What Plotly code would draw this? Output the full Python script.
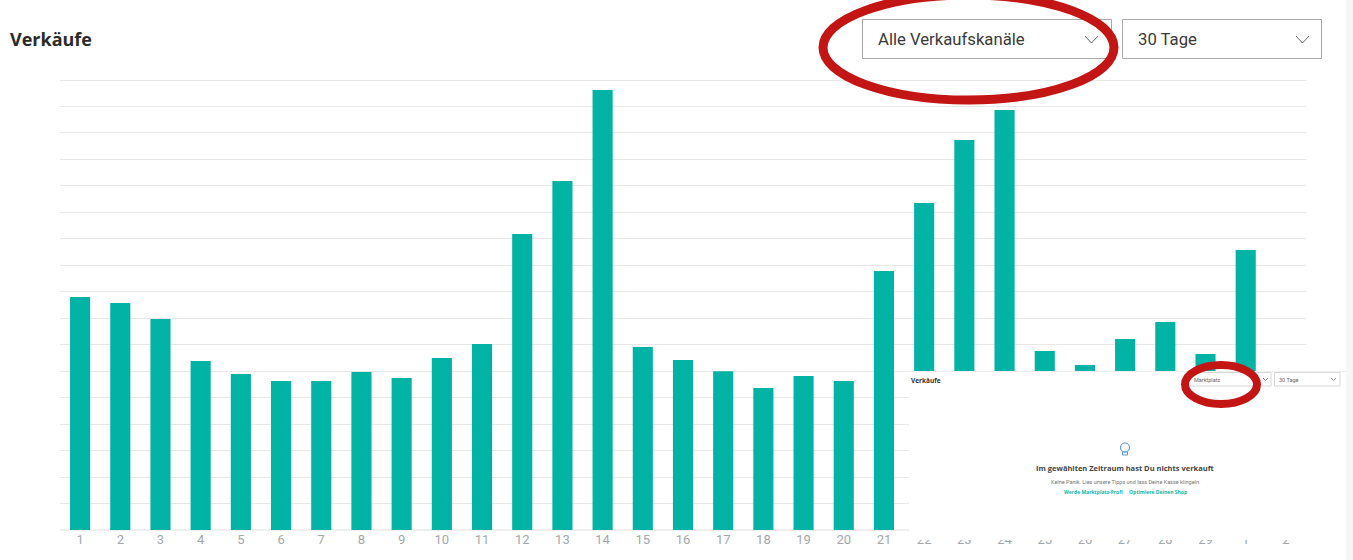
import plotly.graph_objects as go

W, H = 1353, 560

day_labels = ["1","2","3","4","5","6","7","8","9","10","11","12","13","14","15","16","17","18","19","20","21","22","23","24","25","26","27","28","29","1","2"]
sales = [8.80,8.58,7.97,6.38,5.89,5.63,5.63,5.97,5.74,6.50,7.03,11.18,13.18,16.62,6.91,6.42,6.00,5.36,5.82,5.63,9.78,12.35,14.73,15.87,6.76,6.23,7.22,7.86,6.65,10.58,0]
positions = list(range(len(day_labels)))
y_ticks = list(range(18))

TEAL = "#00B3A5"
RED = "#C41515"
BORDER = "#A8A8A8"
TEXT = "#3A3A3A"

def fx(x): return x / W
def fy(y): return 1 - y / H

shapes, annos = [], []

def rect(x0, y0, x1, y1, fill=None, line=None, lw=1):
    shapes.append(dict(type="rect", xref="paper", yref="paper", x0=fx(x0), x1=fx(x1), y0=fy(y1), y1=fy(y0),
                       fillcolor=fill or "rgba(0,0,0,0)", line=dict(color=line or "rgba(0,0,0,0)", width=lw if line else 0), layer="above"))

def ellipse(x0, y0, x1, y1, lw):
    shapes.append(dict(type="circle", xref="paper", yref="paper", x0=fx(x0), x1=fx(x1), y0=fy(y1), y1=fy(y0),
                       line=dict(color=RED, width=lw), layer="above"))

def poly(pts, color, lw=1):
    d = "M" + " L".join(f"{fx(a):.5f},{fy(b):.5f}" for a, b in pts)
    shapes.append(dict(type="path", xref="paper", yref="paper", path=d, line=dict(color=color, width=lw), layer="above"))

def text(x, y, s, size, color=TEXT, font="Roboto", anchor="left", bold=False):
    annos.append(dict(xref="paper", yref="paper", x=fx(x), y=fy(y), text=f"<b>{s}</b>" if bold else s, showarrow=False,
                      xanchor=anchor, yanchor="middle", font=dict(size=size, color=color, family=font)))

# pasted inset panel and page strip
rect(1346, 0, 1353, 560, fill="#F6F6F6")
rect(909, 371, 1346, 540, fill="#FFFFFF")
poly([(909, 371.5), (1346, 371.5)], "#EFEFEF")

# main header
text(8, 39.5, "Verkäufe", 18, "#2B2B2B", "Open Sans", bold=True)
rect(862.5, 19.5, 1111.5, 58.5, line=BORDER)
rect(1122.5, 19.5, 1321.5, 58.5, line=BORDER)
text(876, 40, "Alle Verkaufskanäle", 16.7, TEXT)
text(1136, 40, "30 Tage", 16.7, TEXT)
poly([(1085, 36), (1091.5, 43), (1098, 36)], "#666666")
poly([(1296, 36), (1302.5, 43), (1309, 36)], "#666666")
ellipse(823, -5, 1114, 100, 9)

# inset content
text(909, 380, "Verkäufe", 6.5, "#333333", "Open Sans", bold=True)
rect(1188.5, 372.5, 1271, 386, line="#D8D8D8")
rect(1274.5, 372.5, 1340, 386, line="#D8D8D8")
text(1192, 379.5, "Marktplatz", 5.5, "#666666")
text(1277, 379.5, "30 Tage", 5.5, "#666666")
poly([(1263, 378), (1265.5, 380.5), (1268, 378)], "#888888")
poly([(1331, 378), (1333.5, 380.5), (1336, 378)], "#888888")
ellipse(1185, 365, 1257, 404, 8)

shapes.append(dict(type="circle", xref="paper", yref="paper", x0=fx(1120.5), x1=fx(1129.5), y0=fy(452), y1=fy(443),
                   line=dict(color="#5B9BD5", width=1.2), layer="above"))
rect(1122.5, 452, 1127.5, 455, line="#5B9BD5", lw=1)
text(1125.5, 468, "Im gewählten Zeitraum hast Du nichts verkauft", 7.5, "#444444", "Open Sans", anchor="center", bold=True)
text(1125.5, 481.5, "Keine Panik. Lies unsere Tipps und lass Deine Kasse klingeln:", 5.5, "#777777", anchor="center")
text(1093, 491.5, "Werde Marktplatz-Profi", 5, "#12B5A5", "Open Sans", anchor="center", bold=True)
text(1158, 491.5, "Optimiere Deinen Shop", 5, "#12B5A5", "Open Sans", anchor="center", bold=True)

fig = go.Figure(go.Bar(x=positions, y=sales, marker=dict(color=TEAL, line=dict(width=0)), width=0.5, hoverinfo="skip"))
fig.update_layout(
    width=W, height=H, autosize=False, margin=dict(l=0, r=0, t=0, b=0),
    paper_bgcolor="#FFFFFF", plot_bgcolor="#FFFFFF", showlegend=False,
    shapes=shapes, annotations=annos,
    xaxis=dict(domain=[fx(60), fx(1306)], range=[-0.5, 30.5], showgrid=False, zeroline=False,
               showline=False, ticks="", tickangle=0, tickfont=dict(family="Roboto", size=13, color="#A3A8AE"),
               tickmode="array", tickvals=positions, ticktext=day_labels),
    yaxis=dict(domain=[fy(530), fy(78.41)], range=[0, 17.06], tickvals=y_ticks, showticklabels=False, ticks="",
               gridcolor="#E8E8E8", gridwidth=1, zeroline=True, zerolinecolor="#EFEFEF", zerolinewidth=2, showline=False),
)
fig.write_html("out.html", config=dict(displayModeBar=False),
               post_script="document.body.style.margin='0';document.body.style.overflow='hidden';")
